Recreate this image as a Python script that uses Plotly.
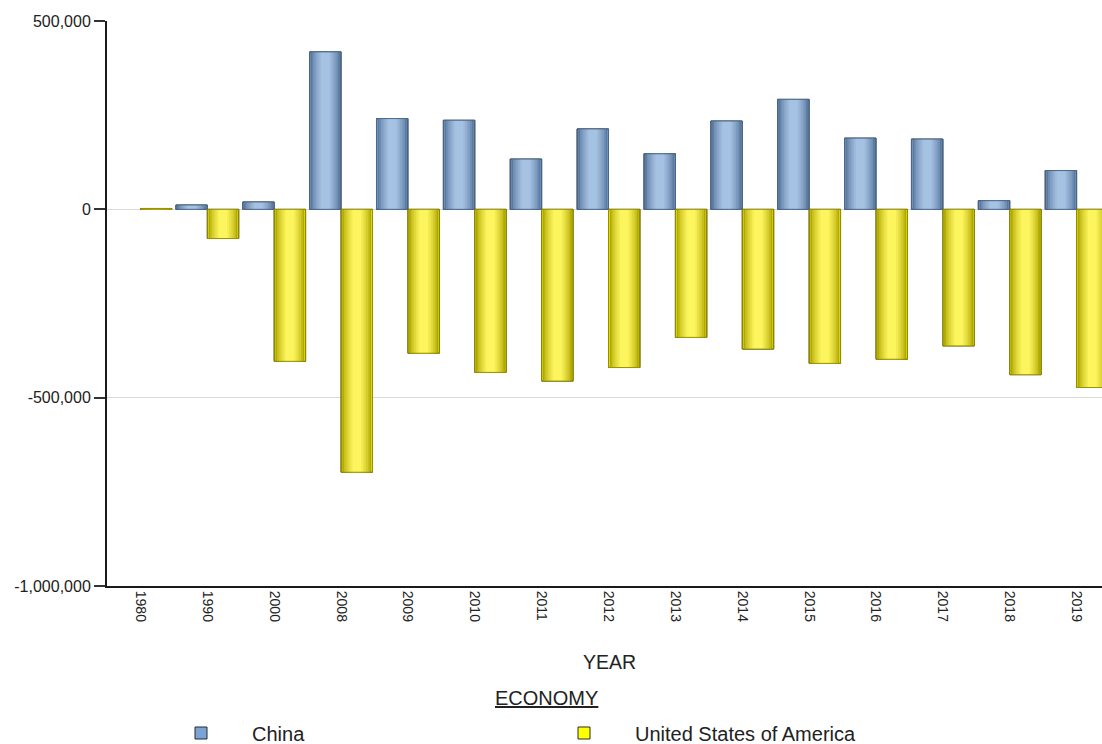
import plotly.graph_objects as go

# ---- data (millions of US$) ----
years = ["1980", "1990", "2000", "2008", "2009", "2010", "2011", "2012",
         "2013", "2014", "2015", "2016", "2017", "2018", "2019"]
china = [None, 11500, 19500, 418000, 241000, 236500, 133500, 213500,
         147500, 234500, 292000, 189000, 186500, 23000, 103000]
usa = [2300, -77500, -403500, -698000, -382000, -433000, -456000, -420000,
       -340000, -371000, -409000, -398000, -362500, -439000, -473000]
y_ticks = [500000, 0, -500000, -1000000]
y_tick_text = ["500,000", "0", "-500,000", "-1,000,000"]
series_names = ["China", "United States of America"]


def lerp(c1, c2, t):
    a = [int(c1[i:i + 2], 16) for i in (1, 3, 5)]
    b = [int(c2[i:i + 2], 16) for i in (1, 3, 5)]
    return "#" + "".join(f"{round(a[k] + (b[k] - a[k]) * t):02x}" for k in range(3))


W = 0.47  # bar width in category units
styles = {
    "China": dict(offset=-W, legend="#7aa3d6", edge="#5a7aa0", center="#a6c2e3",
                  border="#4d6a8c"),
    "United States of America": dict(offset=0.0, legend="#ffff00", edge="#b2a900",
                                     center="#fcf55e", border="#9a9200"),
}

fig = go.Figure()
fracs = [0.93, 0.82, 0.71, 0.60, 0.49, 0.38, 0.27]
for name, vals in zip(series_names, [china, usa]):
    st = styles[name]
    # full-width base trace (legend entry)
    fig.add_trace(go.Bar(
        x=years, y=vals, name=name, width=W, offset=st["offset"],
        marker=dict(color=st["legend"], line=dict(color="#2a2a2a", width=1)),
        showlegend=True, hoverinfo="skip"))
    # cylinder shading layers
    for i, f in enumerate(fracs):
        t = i / (len(fracs) - 1)
        t = t ** 0.7
        fig.add_trace(go.Bar(
            x=years, y=vals, width=W * f, offset=st["offset"] + W * (1 - f) / 2,
            marker=dict(color=lerp(st["edge"], st["center"], t), line=dict(width=0)),
            showlegend=False, hoverinfo="skip"))
    # outline
    fig.add_trace(go.Bar(
        x=years, y=vals, width=W, offset=st["offset"],
        marker=dict(color="rgba(0,0,0,0)", line=dict(color=st["border"], width=1)),
        showlegend=False, hoverinfo="skip"))

FONT = "Liberation Sans, Arial, sans-serif"
L, T, B = 107, 21, 158
plot_w = 1102 - L
plot_h = 744 - T - B


def px_x(px):
    return (px - L) / plot_w


def px_y(py):
    return (744 - B - py) / plot_h


fig.update_layout(
    width=1102, height=744,
    margin=dict(l=L, r=0, t=T, b=B, pad=0, autoexpand=False),
    paper_bgcolor="white", plot_bgcolor="white",
    barmode="overlay",
    font=dict(family=FONT, color="#222222"),
    xaxis=dict(
        type="category", categoryorder="array", categoryarray=years,
        range=[-0.5, -0.5 + plot_w / 66.87],
        showline=True, linecolor="#1a1a1a", linewidth=2,
        showgrid=False, zeroline=False, ticks="",
        tickangle=90, tickfont=dict(size=14, color="#222222"),
    ),
    yaxis=dict(
        range=[-1000000, 500000], tickvals=y_ticks, ticktext=y_tick_text,
        showline=True, linecolor="#1a1a1a", linewidth=2,
        showgrid=True, gridcolor="#dadada", gridwidth=1, zeroline=False,
        ticks="outside", ticklen=11, tickwidth=2, tickcolor="#333333",
        tickfont=dict(size=16, color="#222222"),
    ),
    legend=dict(
        orientation="h", x=px_x(150), xanchor="left", y=px_y(733), yanchor="middle",
        font=dict(size=20, color="#222222"), itemwidth=92,
        entrywidth=276, entrywidthmode="pixels",
        bgcolor="rgba(0,0,0,0)", itemclick=False, itemdoubleclick=False,
    ),
    annotations=[
        dict(text="YEAR", x=px_x(609), y=px_y(662), xref="paper", yref="paper",
             showarrow=False, xanchor="center", yanchor="middle",
             font=dict(size=19.5, color="#222222")),
        dict(text="<u>ECONOMY</u>", x=px_x(546), y=px_y(698), xref="paper", yref="paper",
             showarrow=False, xanchor="center", yanchor="middle",
             font=dict(size=20, color="#222222")),
    ],
)

fig.write_html("out.html")
